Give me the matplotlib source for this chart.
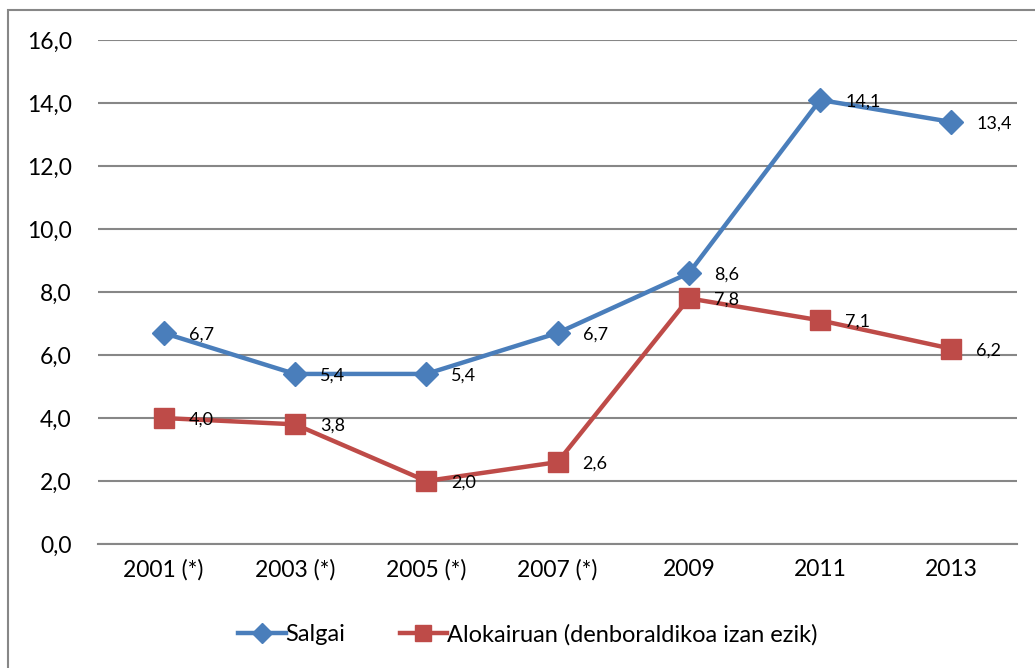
import matplotlib.pyplot as plt
from matplotlib.patches import Rectangle

# datuak
years = ['2001 (*)', '2003 (*)', '2005 (*)', '2007 (*)', '2009', '2011', '2013']
salgai = [6.7, 5.4, 5.4, 6.7, 8.6, 14.1, 13.4]
alokairuan = [4.0, 3.8, 2.0, 2.6, 7.8, 7.1, 6.2]
yticks = [0, 2, 4, 6, 8, 10, 12, 14, 16]

blue = '#4A7EBB'
red = '#BE4B48'

plt.rcParams['font.family'] = ['Lato', 'DejaVu Sans']

fig = plt.figure(figsize=(10.35, 6.68), dpi=100)
ax = fig.add_axes([0.0947, 0.1856, 0.888, 0.7544])

x = list(range(len(years)))
ax.plot(x, salgai, color=blue, lw=3.2, marker='D', ms=12, label='Salgai', zorder=3)
ax.plot(x, alokairuan, color=red, lw=3.2, marker='s', ms=14,
        label='Alokairuan (denboraldikoa izan ezik)', zorder=3)

# balioen etiketak
for xs, ys in [(x, salgai), (x, alokairuan)]:
    for xi, yi in zip(xs, ys):
        ax.annotate(f'{yi:.1f}'.replace('.', ','), (xi, yi), xytext=(18, -1),
                    textcoords='offset points', va='center', ha='left', fontsize=13, zorder=4)

ax.set_xlim(-0.5, len(years) - 0.5)
ax.set_ylim(0, 16)
ax.set_yticks(yticks)
ax.set_yticklabels([f'{v:.1f}'.replace('.', ',') for v in yticks], fontsize=16.5)
ax.set_xticks(x)
ax.set_xticklabels(years, fontsize=16.5)
ax.tick_params(length=0, pad=11)
ax.tick_params(axis='y', pad=19)
ax.grid(axis='y', color='#878787', lw=1.5)
ax.set_axisbelow(True)
for s in ['top', 'right', 'left']:
    ax.spines[s].set_visible(False)
ax.spines['bottom'].set_color('#878787')
ax.spines['bottom'].set_linewidth(1.5)

fig.legend(loc='center', bbox_to_anchor=(0.51, 0.05), ncol=2, frameon=False,
           fontsize=17, handlelength=2.0, columnspacing=2.3, handletextpad=0.0,
           markerscale=0.85)

# kanpoko markoa
fig.patches.append(Rectangle((8 / 1035, -0.1), 1.2, 1 - 10 / 668 + 0.1,
                             transform=fig.transFigure, fill=False, ec='#878787', lw=1.5))

fig.savefig('out.png', dpi=100)
